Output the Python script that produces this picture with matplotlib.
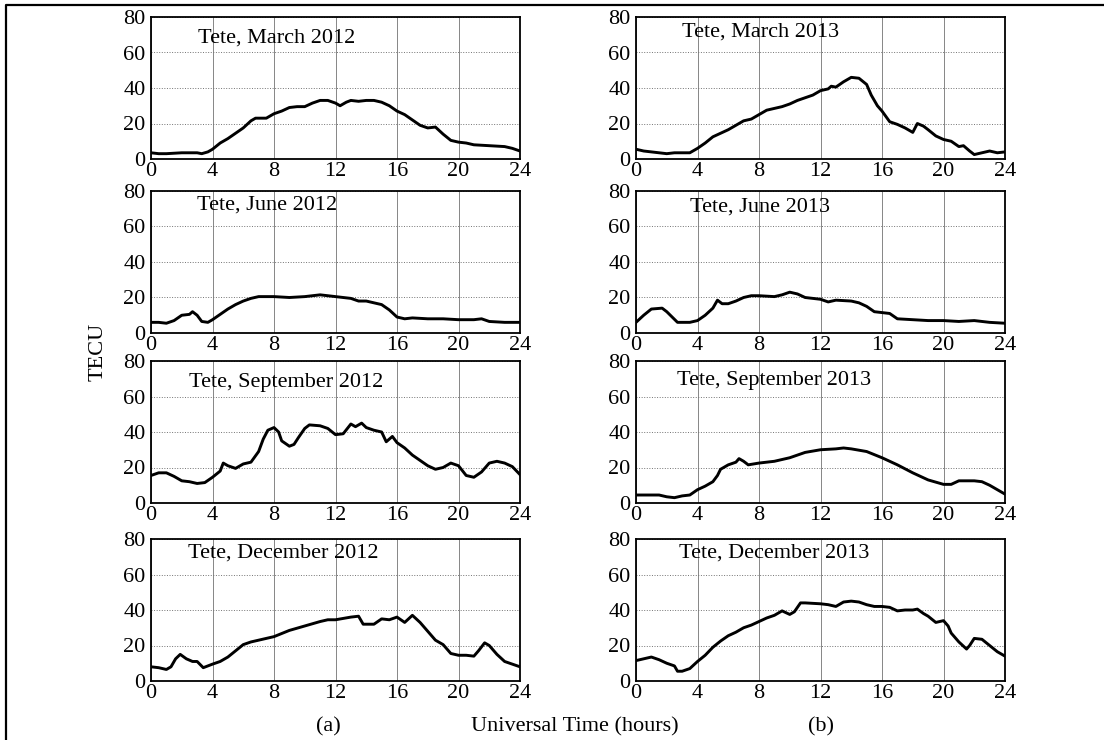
import numpy as np
import matplotlib
matplotlib.use("Agg")
import matplotlib.pyplot as plt
from matplotlib.lines import Line2D

plt.rcParams['font.family'] = ['Liberation Serif', 'DejaVu Serif']

# hours / TECU
mar12_t = [0, 0.5, 1, 2, 3, 3.3, 3.7, 4, 4.5, 5, 5.5, 6, 6.5, 6.8, 7.5, 8, 8.5, 9, 9.5, 10, 10.5, 11, 11.5, 12, 12.3, 12.7, 13, 13.5, 14, 14.5, 15, 15.5, 16, 16.5, 17, 17.5, 18, 18.5, 19, 19.5, 20, 20.5, 21, 22, 23, 23.5, 24]
mar12_v = [3.5, 3, 3, 3.5, 3.5, 3, 4, 5.5, 9, 11.5, 14.5, 17.5, 21.5, 23, 23, 25.5, 27, 29, 29.5, 29.5, 31.5, 33, 33, 31.5, 30, 32, 33, 32.5, 33, 33, 32, 30, 27, 25, 22, 19, 17.5, 18, 14, 10.5, 9.5, 9, 8, 7.5, 7, 6, 4.5]

jun12_t = [0, 0.5, 1, 1.5, 2, 2.5, 2.7, 3, 3.3, 3.7, 4, 4.5, 5, 5.5, 6, 6.5, 7, 8, 9, 10, 11, 12, 13, 13.5, 14, 15, 15.5, 16, 16.5, 17, 18, 19, 20, 21, 21.5, 22, 23, 24]
jun12_v = [6, 6, 5.5, 7, 10, 10.5, 12, 10, 6.5, 6, 7.5, 10.5, 13.5, 16, 18, 19.5, 20.5, 20.5, 20, 20.5, 21.5, 20.5, 19.5, 18, 18, 16, 13, 9, 8, 8.5, 8, 8, 7.5, 7.5, 8, 6.5, 6, 6]

sep12_t = [0, 0.5, 1, 1.5, 2, 2.5, 3, 3.5, 4, 4.5, 4.7, 5, 5.5, 6, 6.5, 7, 7.3, 7.6, 8, 8.3, 8.5, 9, 9.3, 9.6, 10, 10.3, 11, 11.5, 12, 12.5, 13, 13.3, 13.7, 14, 14.5, 15, 15.3, 15.7, 16, 16.5, 17, 17.5, 18, 18.5, 19, 19.5, 20, 20.5, 21, 21.5, 22, 22.5, 23, 23.5, 24]
sep12_v = [15.5, 17, 17, 15, 12.5, 12, 11, 11.5, 14.5, 18, 22.5, 21, 19.5, 22, 23, 29, 36, 41, 42.5, 40, 35, 32, 33, 37, 42, 44, 43.5, 42, 38.5, 39, 44.5, 43, 45, 42.5, 41, 40, 34.5, 37.5, 34, 31, 27, 24, 21, 19, 20, 22.5, 21, 15.5, 14.5, 17.5, 22.5, 23.5, 22.5, 20.5, 16]

dec12_t = [0, 0.5, 1, 1.3, 1.6, 1.9, 2.3, 2.7, 3, 3.4, 4, 4.5, 5, 5.5, 6, 6.5, 7, 8, 9, 10, 11, 11.5, 12, 13, 13.5, 13.8, 14.5, 15, 15.5, 16, 16.5, 17, 17.5, 18, 18.5, 19, 19.5, 20, 20.5, 21, 21.3, 21.7, 22, 22.5, 23, 23.5, 24]
dec12_v = [8, 7.5, 6.5, 8, 12.5, 15, 12.5, 11, 11, 7.5, 9.5, 11, 13.5, 17, 20.5, 22, 23, 25, 28.5, 31, 33.5, 34.5, 34.5, 36, 36.5, 32, 32, 35, 34.5, 36, 33, 37, 33, 28, 23, 20.5, 15.5, 14.5, 14.5, 14, 17, 21.5, 20, 15, 11, 9.5, 8]

mar13_t = [0, 0.5, 1, 1.5, 2, 2.5, 3, 3.5, 4, 4.5, 5, 5.5, 6, 6.5, 7, 7.5, 8, 8.5, 9, 9.5, 10, 10.5, 11, 11.5, 12, 12.5, 12.7, 13, 13.5, 14, 14.5, 15, 15.3, 15.7, 16, 16.5, 17, 17.5, 18, 18.3, 18.7, 19, 19.5, 20, 20.5, 21, 21.3, 21.7, 22, 22.5, 23, 23.5, 24]
mar13_v = [5.5, 4.5, 4, 3.5, 3, 3.5, 3.5, 3.5, 6, 9, 12.5, 14.5, 16.5, 19, 21.5, 22.5, 25, 27.5, 28.5, 29.5, 31, 33, 34.5, 36, 38.5, 39.5, 41, 40.5, 43.5, 46, 45.5, 42, 36, 30, 27, 21, 19.5, 17.5, 15, 20, 18.5, 16.5, 13, 11, 10, 7, 7.5, 4.5, 2.5, 3.5, 4.5, 3.5, 4]

jun13_t = [0, 0.5, 1, 1.7, 2, 2.7, 3.5, 4, 4.5, 5, 5.3, 5.6, 6, 6.5, 7, 7.5, 8, 9, 9.5, 10, 10.5, 11, 12, 12.5, 13, 14, 14.5, 15, 15.5, 16, 16.5, 17, 18, 19, 20, 21, 22, 23, 24]
jun13_v = [6, 10, 13.5, 14, 12, 6, 6, 7, 10, 14, 18.5, 16.5, 16.5, 18, 20, 21, 21, 20.5, 21.5, 23, 22, 20, 19, 17.5, 18.5, 18, 17, 15, 12, 11.5, 11, 8, 7.5, 7, 7, 6.5, 7, 6, 5.5]

sep13_t = [0, 1, 1.5, 2, 2.5, 3, 3.5, 4, 4.5, 5, 5.3, 5.5, 6, 6.5, 6.7, 7, 7.3, 8, 9, 10, 11, 12, 13, 13.5, 14, 15, 16, 17, 18, 19, 20, 20.5, 21, 22, 22.5, 23, 23.5, 24]
sep13_v = [4.5, 4.5, 4.5, 3.5, 3, 4, 4.5, 7.5, 9.5, 12, 15.5, 19, 21.5, 23, 25, 23.5, 21.5, 22.5, 23.5, 25.5, 28.5, 30, 30.5, 31, 30.5, 29, 25.5, 21.5, 17, 13, 10.5, 10.5, 12.5, 12.5, 12, 10, 7.5, 5]

dec13_t = [0, 0.5, 1, 1.5, 2, 2.5, 2.7, 3, 3.5, 4, 4.5, 5, 5.5, 6, 6.5, 7, 7.5, 8, 8.5, 9, 9.5, 10, 10.3, 10.7, 11, 12, 12.5, 13, 13.5, 14, 14.5, 15, 15.5, 16, 16.5, 17, 17.5, 18, 18.3, 18.7, 19, 19.5, 20, 20.3, 20.5, 21, 21.5, 21.7, 22, 22.5, 23, 23.5, 24]
dec13_v = [11.5, 12.5, 13.5, 12, 10, 8.5, 5.5, 5.5, 7, 11, 14.5, 19, 22.5, 25.5, 27.5, 30, 31.5, 33.5, 35.5, 37, 39.5, 37.5, 39, 44, 44, 43.5, 43, 42, 44.5, 45, 44.5, 43, 42, 42, 41.5, 39.5, 40, 40, 40.5, 38, 36.5, 33, 34, 31, 27, 22, 18, 20, 24, 23.5, 20, 16.5, 14]

titles = ["Tete, March 2012", "Tete, June 2012", "Tete, September 2012", "Tete, December 2012",
          "Tete, March 2013", "Tete, June 2013", "Tete, September 2013", "Tete, December 2013"]
series = [(mar12_t, mar12_v), (jun12_t, jun12_v), (sep12_t, sep12_v), (dec12_t, dec12_v),
          (mar13_t, mar13_v), (jun13_t, jun13_v), (sep13_t, sep13_v), (dec13_t, dec13_v)]

W, H = 1104, 740
fs = 16
fig = plt.figure(figsize=(W/100, H/100), dpi=100)

col_x = [151, 636]
col_w = 369
row_top = [17, 191, 361, 539]
row_h = 142
# title left edge (px) and offset below axes top (px)
title_x = [198, 197, 189, 188, 682, 690, 677, 679]
title_dy = [21, 14, 22, 14, 15, 16, 19, 14]

for i in range(8):
    c, r = i // 4, i % 4
    x0 = col_x[c]
    y0 = row_top[r]
    ax = fig.add_axes([x0/W, 1-(y0+row_h)/H, col_w/W, row_h/H])
    t, v = series[i]
    ax.plot(t, v, color='black', lw=2.1)
    ax.set_xlim(0, 24)
    ax.set_ylim(0, 80)
    ax.set_xticks(range(0, 25, 4))
    ax.set_yticks(range(0, 81, 20))
    ax.grid(True, axis='x', color='0.45', lw=0.6, ls='-')
    ax.grid(True, axis='y', color='0.45', lw=0.7, ls=':')
    ax.tick_params(length=0, labelsize=fs, pad=2)
    ax.tick_params(axis='y', pad=4)
    for s in ax.spines.values():
        s.set_linewidth(1.3)
    ax.text((title_x[i]-x0)/col_w, 1-title_dy[i]/row_h, titles[i], transform=ax.transAxes,
            ha='left', va='center', fontsize=fs)

fig.text(98/W, 1-352/H, "TECU", rotation=90, ha='center', va='center', fontsize=fs)
fig.text(575/W, 1-727/H, "Universal Time (hours)", ha='center', va='center', fontsize=fs)
fig.text(328/W, 1-727/H, "(a)", ha='center', va='center', fontsize=fs)
fig.text(821/W, 1-727/H, "(b)", ha='center', va='center', fontsize=fs)

# page frame (left and top edges)
fig.add_artist(Line2D([6/W, 6/W, 1], [0, 1-5/H, 1-5/H], color='black', lw=1.6))

fig.savefig("out.png", dpi=100)
